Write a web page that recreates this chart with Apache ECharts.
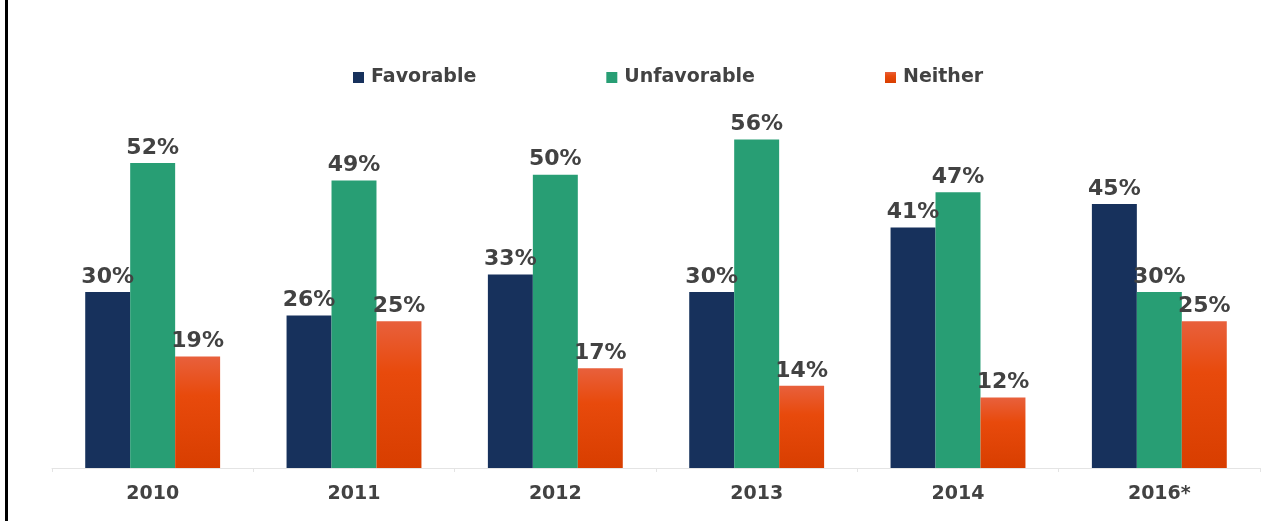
<!DOCTYPE html>
<html>
<head>
<meta charset="utf-8">
<script src="https://cdn.jsdelivr.net/npm/echarts@6/dist/echarts.min.js"></script>
<style>
  html, body { margin: 0; padding: 0; background: #ffffff; }
  #chart { width: 1283px; height: 521px; }
</style>
</head>
<body>
<div id="chart"></div>
<script>
// Survey years and opinion shares (%)
const years = ['2010', '2011', '2012', '2013', '2014', '2016*'];
const favorable = [30, 26, 33, 30, 41, 45];
const unfavorable = [52, 49, 50, 56, 47, 30];
const neither = [19, 25, 17, 14, 12, 25];

const FONT = '"DejaVu Sans", Verdana, sans-serif';
const TEXT = '#424242';

const valueLabel = {
  show: true,
  position: 'top',
  distance: 4,
  formatter: '{c}%',
  color: TEXT,
  fontFamily: FONT,
  fontWeight: 'bold',
  fontSize: 22
};

const chart = echarts.init(document.getElementById('chart'));
chart.setOption({
  animation: false,
  backgroundColor: '#ffffff',
  graphic: [{
    type: 'rect',
    shape: { x: 5, y: 0, width: 3, height: 521 },
    style: { fill: '#000000' },
    z: 100
  }],
  legend: {
    left: 348,
    top: 63,
    itemWidth: 11,
    itemHeight: 11,
    itemGap: 130,
    icon: 'rect',
    textStyle: { color: TEXT, fontFamily: FONT, fontWeight: 'bold', fontSize: 19, padding: [0, 0, 0, 2] },
    data: ['Favorable', 'Unfavorable', 'Neither']
  },
  grid: { left: 52, right: 23, top: 116, bottom: 53 },
  xAxis: {
    type: 'category',
    data: years,
    axisLine: { lineStyle: { color: '#e4e4e4', width: 1 } },
    axisTick: { show: true, length: 4, lineStyle: { color: '#e4e4e4' } },
    axisLabel: { color: TEXT, fontFamily: FONT, fontWeight: 'bold', fontSize: 19, margin: 17 }
  },
  yAxis: {
    type: 'value',
    min: 0,
    max: 60,
    show: false,
    splitLine: { show: false }
  },
  series: [
    {
      name: 'Favorable',
      type: 'bar',
      data: favorable,
      barGap: '0%',
      barCategoryGap: '33%',
      itemStyle: { color: '#17315c' },
      label: valueLabel
    },
    {
      name: 'Unfavorable',
      type: 'bar',
      data: unfavorable,
      barGap: '0%',
      barCategoryGap: '33%',
      itemStyle: { color: '#289e74' },
      label: valueLabel
    },
    {
      name: 'Neither',
      type: 'bar',
      data: neither,
      barGap: '0%',
      barCategoryGap: '33%',
      itemStyle: {
        color: new echarts.graphic.LinearGradient(0, 0, 0, 1, [
          { offset: 0, color: '#e8603c' },
          { offset: 0.35, color: '#e84a0c' },
          { offset: 1, color: '#d83e00' }
        ])
      },
      label: valueLabel
    }
  ]
});
</script>
</body>
</html>
